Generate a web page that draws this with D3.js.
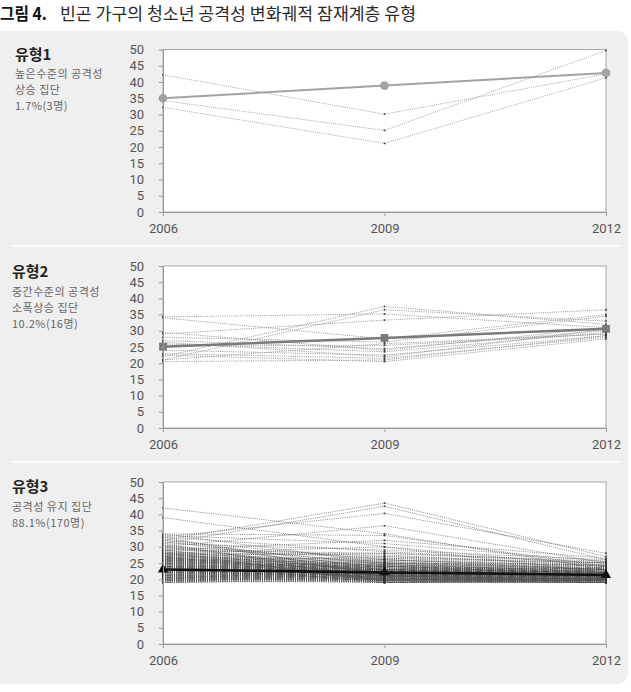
<!DOCTYPE html>
<html>
<head>
<meta charset="utf-8">
<script src="https://cdn.jsdelivr.net/npm/d3@7"></script>
<style>
  html, body { margin: 0; padding: 0; background: #ffffff; }
  svg { display: block; }
</style>
</head>
<body>
<svg id="chart" width="631" height="692"></svg>
<script>
// ---------------- DATA ----------------
const years = [2006, 2009, 2012];
const yTicks = [0, 5, 10, 15, 20, 25, 30, 35, 40, 45, 50];
const chartTitleBold = "그림 4.";
const chartTitleRest = "빈곤 가구의 청소년 공격성 변화궤적 잠재계층 유형";
const typeNames = ["유형1", "유형2", "유형3"];
const typeDesc1 = ["높은수준의 공격성", "상승 집단", "1.7%(3명)"];
const typeDesc2 = ["중간수준의 공격성", "소폭상승 집단", "10.2%(16명)"];
const typeDesc3 = ["공격성 유지 집단", "88.1%(170명)"];

// class mean trajectories (2006, 2009, 2012)
const mean1 = [35.0, 38.9, 42.8];
const mean2 = [25.1, 27.8, 30.6];
const mean3 = [23.0, 22.1, 21.3];

// individual trajectories (2006, 2009, 2012)
const indiv1 = [
  [42.2, 30.1, 42.5], [34.3, 25.1, 49.7], [32.2, 21.1, 41.3]
];
const indiv2 = [
  [34.3, 35.2, 31.0], [34.0, 27.5, 35.0], [22.0, 37.5, 32.0], [21.0, 36.5, 33.0],
  [29.0, 33.3, 36.5], [28.0, 26.5, 34.5], [27.0, 24.5, 30.0], [26.0, 23.5, 29.5],
  [25.5, 25.5, 29.0], [24.0, 22.5, 28.5], [23.0, 21.5, 28.0], [22.5, 20.5, 27.5],
  [21.0, 26.0, 29.0], [20.5, 21.0, 28.5], [26.5, 22.0, 30.5], [29.5, 24.0, 31.0]
];
const indiv3 = [
  [42,34,23],[39,30,22],[32,43.5,27],[31,42.5,26],[33,40.3,28],[30,36.5,25],[34,33.5,24],[29,32,26.5],[33.5,31,25.5],[28,30,24],
  [19.5,21,20],[20,22,21],[21,20,19.5],[22,23,22],[23,21,20.5],[24,25,23],[25,22,21],[26,24,22],[27,26,24],[28,23,21.5],
  [19,19.5,19],[20.5,20,20],[21.5,24,22],[22.5,21.5,21],[23.5,22.5,20],[24.5,20.5,19.5],[25.5,27,25],[26.5,23,22.5],[27.5,25,23.5],[29,28,25],
  [30,27,24.5],[31,29,26],[32,26,23],[33,28.5,25],[19.5,23,22],[20,19,19],[21,21.5,20.5],[22,20,21],[23,24.5,23],[24,21,20],
  [25,23.5,22],[26,20.5,20],[27,22,21],[28.5,24,22],[29.5,26.5,24],[30.5,25,23],[19,20,20.5],[20,21,19.5],[21,22.5,22],[22,19.5,20],
  [23,20,19],[24,22,21.5],[25,26,23.5],[26,21,21],[27,23,22],[28,27.5,24],[29,22,21],[31.5,24.5,22.5],[32.5,23,21],[19.5,21.5,21],
  [20.5,23,21.5],[21.5,19,19.5],[22.5,22,20.5],[23.5,25.5,23],[24.5,23,22],[25.5,20,19.5],[26.5,22.5,21],[27.5,24,23],[28.5,21,20],[30,22,20.5],
  [19,22,21],[20,24,22.5],[21,23,22],[22,26,24],[23,19.5,19],[24,20.5,20.5],[25,24.5,23.5],[26,22,22],[27,20,20],[28,25.5,23],
  [19.5,19,20],[20.5,21,21],[21.5,20,20],[22.5,23.5,22.5],[23.5,21,21.5],[24.5,22,20],[25.5,23.5,21],[26.5,21.5,22.5],[27.5,28,25.5],[29,20.5,19.5],
  [20,20,19],[21,19,20],[22,21.5,19.5],[23,22.5,21],[24,19.5,20],[25,21,22],[26,25,24.5],[27,19.5,19],[28,22.5,21.5],[33,21,20],
  [19,21,22],[20,22.5,23],[21,25,24],[22,21,19],[23,23,23.5],[24,24,21],[25,20.5,20],[26,26.5,25],[27,21.5,20.5],[29.5,23.5,22],
  [19.5,20.5,21],[20.5,22,19.5],[21.5,21,23],[22.5,20,20],[23.5,24,22],[24.5,21.5,21],[25.5,22,23],[26.5,20,19.5],[27.5,23,22],[31,20,19],
  [20,23.5,22],[21,20.5,21],[22,24,23],[23,20,19.5],[24,22.5,22.5],[25,19,19],[26,23,21],[27,21,22],[28,20,20.5],[30,24,21.5],
  [19,20,19.5],[20,23,20.5],[21,22,21.5],[22,24.5,22],[23,22,23],[24,19,19],[25,21.5,21.5],[26,22.5,20],[27,24.5,22],[32,22,21],
  [19.5,22,20],[20.5,19.5,19],[21.5,23,21],[22.5,21,22],[23.5,20.5,20],[24.5,23,21.5],[25.5,21,20.5],[26.5,24,23],[28,19.5,19.5],[34,25,22],
  [19,22.5,21.5],[20,20,21],[21,21.5,20],[22,22.5,23.5],[23,20,21],[24,22,20],[25,24,22],[26,19.5,20],[27,21,21],[29,23,21],
  [20.5,21,20],[21.5,22.5,21],[22.5,19,19.5],[23.5,21.5,20.5],[24.5,20,22],[25.5,23,21.5],[26.5,21,19],[27.5,22,21],[28.5,19,20],[30.5,21.5,20]
];

// ---------------- LAYOUT ----------------
const svg = d3.select("#chart");
const plotLeft = 163, plotRight = 606;

svg.append("rect")
  .attr("x", -12).attr("y", 31).attr("width", 640).attr("height", 653)
  .attr("rx", 11).attr("fill", "#efefef");

// title (two separate text runs)
svg.append("text")
  .attr("x", 0).attr("y", 20)
  .attr("font-family", "'Noto Sans CJK KR', 'Noto Sans', sans-serif")
  .attr("font-size", 17).attr("font-weight", "bold").attr("fill", "#111")
  .attr("textLength", 47).attr("lengthAdjust", "spacingAndGlyphs")
  .text(chartTitleBold);
svg.append("text")
  .attr("x", 60).attr("y", 20)
  .attr("font-family", "'Noto Sans CJK KR', 'Noto Sans', sans-serif")
  .attr("font-size", 17).attr("fill", "#2a2a2a")
  .attr("textLength", 356).attr("lengthAdjust", "spacingAndGlyphs")
  .text(chartTitleRest);

// separators
[246, 462].forEach(yy => {
  svg.append("line").attr("x1", 12).attr("x2", 620).attr("y1", yy).attr("y2", yy)
    .attr("stroke", "#ffffff").attr("stroke-width", 1.5);
});

const x = d3.scaleLinear().domain([2006, 2012]).range([plotLeft, plotRight]);

const panels = [
  { top: 49.5, bottom: 212, name: typeNames[0], desc: typeDesc1, lx: 15, nameY: 59.5, descY: [77.5, 93.5, 109.5],
    indiv: indiv1, mean: mean1, indivColor: "#9a9a9a", indivW: 0.9, meanColor: "#a3a3a3", meanW: 2, marker: "circle" },
  { top: 266, bottom: 428, name: typeNames[1], desc: typeDesc2, lx: 12, nameY: 276.5, descY: [296, 312, 328],
    indiv: indiv2, mean: mean2, indivColor: "#8a8a8a", indivW: 0.9, meanColor: "#7a7a7a", meanW: 2.5, marker: "square" },
  { top: 482, bottom: 644, name: typeNames[2], desc: typeDesc3, lx: 12, nameY: 491.5, descY: [511, 527],
    indiv: indiv3, mean: mean3, indivColor: "#555555", indivW: 0.7, meanColor: "#111111", meanW: 2.5, marker: "triangle" }
];

panels.forEach(p => {
  const g = svg.append("g");
  const y = d3.scaleLinear().domain([0, 50]).range([p.bottom, p.top]);

  // labels
  g.append("text").attr("x", p.lx).attr("y", p.nameY)
    .attr("font-family", "'Noto Sans CJK KR', sans-serif").attr("font-weight", "bold")
    .attr("font-size", 15).attr("fill", "#222").text(p.name);
  p.desc.forEach((t, i) => {
    g.append("text").attr("x", p.lx).attr("y", p.descY[i])
      .attr("font-family", "'Noto Sans CJK KR', sans-serif")
      .attr("font-size", 11).attr("letter-spacing", 0.5).attr("fill", "#666").text(t);
  });

  // plot frame
  g.append("rect").attr("x", plotLeft).attr("y", p.top)
    .attr("width", plotRight - plotLeft).attr("height", p.bottom - p.top)
    .attr("fill", "#ffffff").attr("stroke", "#a8a8a8").attr("stroke-width", 1);

  const line = d3.line().x((d, i) => x(years[i])).y(d => y(d));

  // individual trajectories
  const ig = g.append("g");
  ig.selectAll("path").data(p.indiv).join("path")
    .attr("d", d => line(d)).attr("fill", "none")
    .attr("stroke", p.indivColor).attr("stroke-width", p.indivW)
    .attr("stroke-dasharray", "1,1.2");
  const pts = [];
  p.indiv.forEach(d => d.forEach((v, i) => pts.push([years[i], v])));
  ig.selectAll("rect").data(pts).join("rect")
    .attr("x", d => x(d[0]) - 0.8).attr("y", d => y(d[1]) - 0.8)
    .attr("width", 1.6).attr("height", 1.6).attr("fill", "#333");

  // mean trajectory
  g.append("path").attr("d", line(p.mean)).attr("fill", "none")
    .attr("stroke", p.meanColor).attr("stroke-width", p.meanW);
  const mp = p.mean.map((v, i) => [years[i], v]);
  const sym = p.marker === "circle" ? d3.symbolCircle : (p.marker === "square" ? d3.symbolSquare : d3.symbolTriangle);
  const size = p.marker === "circle" ? 60 : (p.marker === "square" ? 60 : 45);
  g.selectAll("path.mk").data(mp).join("path").attr("class", "mk")
    .attr("transform", d => `translate(${x(d[0])},${y(d[1])})`)
    .attr("d", d3.symbol().type(sym).size(size))
    .attr("fill", p.meanColor);

  // axes
  const ya = g.append("g").attr("transform", `translate(${plotLeft},0)`)
    .call(d3.axisLeft(y).tickValues(yTicks).tickSize(4).tickSizeOuter(0).tickPadding(15));
  const xa = g.append("g").attr("transform", `translate(0,${p.bottom})`)
    .call(d3.axisBottom(x).tickValues(years).tickFormat(d3.format("d")).tickSize(4).tickSizeOuter(0).tickPadding(8));
  [ya, xa].forEach(a => {
    a.selectAll("path, line").attr("stroke", "#999");
    a.selectAll("text").attr("font-family", "Roboto, sans-serif").attr("font-size", 13).attr("fill", "#555");
  });
});
</script>
</body>
</html>
